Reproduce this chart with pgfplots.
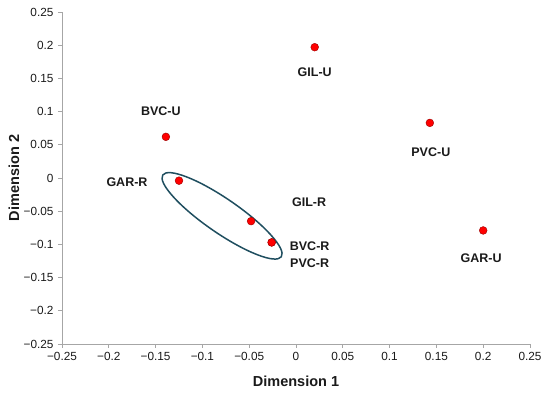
\documentclass[border=0pt]{standalone}
\usepackage{pgfplots}
\usepackage{pgfplotstable}
\pgfplotsset{compat=1.18}
\usepackage{fontspec}
\setmainfont{Liberation Sans}
\definecolor{axgray}{HTML}{A6A6A6}
\definecolor{ellcol}{HTML}{1F4E5F}
\definecolor{txt}{HTML}{1A1A1A}
\pgfplotstableread{
x y label dx dy
0.020 0.197 GIL-U 0 -25
0.143 0.083 PVC-U 1 -29
-0.139 0.062 BVC-U -5 26
-0.125 -0.004 GAR-R -52 -2
-0.048 -0.065 GIL-R 58 19
-0.026 -0.097 BVC-R 38 -4
-0.026 -0.097 PVC-R 38 -21
0.200 -0.079 GAR-U -2 -28
}\pts
\begin{document}
\begin{tikzpicture}
\path[use as bounding box] (-62pt,-49pt) rectangle (488pt,344pt);
\begin{axis}[
  at={(0,0)}, anchor=south west,
  scale only axis, width=468pt, height=332pt,
  xmin=-0.25, xmax=0.25, ymin=-0.25, ymax=0.25,
  axis lines*=left,
  axis line style={axgray, line width=0.9pt},
  tick style={axgray, line width=0.9pt},
  tick align=outside,
  major tick length=4pt,
  xtick={-0.25,-0.2,-0.15,-0.1,-0.05,0,0.05,0.1,0.15,0.2,0.25},
  ytick={-0.25,-0.2,-0.15,-0.1,-0.05,0,0.05,0.1,0.15,0.2,0.25},
  xticklabels={−0.25,−0.2,−0.15,−0.1,−0.05,0,0.05,0.1,0.15,0.2,0.25},
  yticklabels={−0.25,−0.2,−0.15,−0.1,−0.05,0,0.05,0.1,0.15,0.2,0.25},
  ticklabel style={font=\fontsize{11.8}{13}\selectfont, text=txt},
  xticklabel style={yshift=-1pt},
  yticklabel style={xshift=-1pt},
  xlabel={\textbf{Dimension 1}},
  ylabel={\textbf{Dimension 2}},
  every axis x label/.style={at={(axis description cs:0.5,-0.1136)}, anchor=center,
    font=\fontsize{14.5}{16}\selectfont, text=txt},
  every axis y label/.style={at={(axis description cs:-0.1026,0.5)}, anchor=center, rotate=90,
    font=\fontsize{14.5}{16}\selectfont, text=txt},
  clip=false,
]
\addplot[only marks, mark=*, mark size=3.9pt,
  mark options={fill=red, draw=red!60!black, line width=0.4pt},
  visualization depends on={\thisrow{dx}\as\dx},
  visualization depends on={\thisrow{dy}\as\dy},
  point meta=explicit symbolic,
  nodes near coords,
  every node near coord/.append style={anchor=center, xshift=\dx pt, yshift=\dy pt,
    font=\bfseries\fontsize{12.5}{14}\selectfont, text=txt, inner sep=0pt},
] table[x=x, y=y, meta=label] {\pts};
\draw[ellcol, line width=1.5pt, rotate around={-34.6:(axis cs:-0.079,-0.057)}]
  (axis cs:-0.079,-0.057) ellipse [x radius=72pt, y radius=17pt];
\end{axis}
\end{tikzpicture}
\end{document}
